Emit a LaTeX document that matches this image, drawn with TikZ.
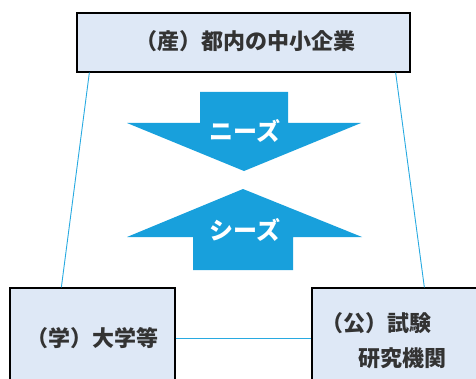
\documentclass[tikz,border=0pt]{standalone}
\usepackage{fontspec}
\newfontfamily\cjk{Noto Sans CJK JP}
\usetikzlibrary{calc}
\definecolor{boxfill}{RGB}{222,232,246}
\definecolor{arrowblue}{RGB}{24,160,220}
\definecolor{linkcyan}{RGB}{40,170,225}
\tikzset{
  panel/.style={draw=black, line width=1.3pt, fill=boxfill, inner sep=0pt},
  link/.style={draw=linkcyan, line width=0.9pt},
  flow/.style={fill=arrowblue, draw=none},
  boxtext/.style={font=\cjk\bfseries\fontsize{22}{26}\selectfont, text=black!80, inner sep=0pt},
  arrowtext/.style={font=\cjk\bfseries\fontsize{24}{28}\selectfont, text=white, inner sep=0pt},
}
\begin{document}
\begin{tikzpicture}[x=1pt,y=1pt]
\useasboundingbox (0,0) rectangle (476,378);
% boxes (y = 378 - pixel y)
\node[panel, minimum width=333pt, minimum height=59pt] (top) at (243.5,335.5) {};
\node[panel, minimum width=165pt, minimum height=110pt] (bl) at (92.5,35) {};
\node[panel, minimum width=180pt, minimum height=110pt] (br) at (402,35) {};
% connectors
\draw[link] ($(top.south west)+(13,0)$) -- ($(bl.north west)+(52,0)$);
\draw[link] ($(top.south east)+(-15,0)$) -- ($(br.north west)+(113,0)$);
\draw[link] (bl.east |- 0,40) -- (br.west |- 0,40);
% arrows
\path[flow] (200,286) -- (288,286) -- (288,255) -- (361,255) -- (244,207) -- (127,255) -- (200,255) -- cycle;
\path[flow] (243,189) -- (362,141) -- (293,141) -- (293,108) -- (193,108) -- (193,141) -- (127,141) -- cycle;
% texts
\node[boxtext] (ttop) at (245,337) {（産）都内の中小企業};
\node[boxtext] (tbl) at (92,40) {（学）大学等};
\node[boxtext, anchor=west] (tbr1) at (321,55) {（公）試験};
\node[boxtext, anchor=west] (tbr2) at (358,20) {研究機関};
\node[arrowtext] (needs) at (245,247) {ニーズ};
\node[arrowtext] (seeds) at (245,148) {シーズ};
\end{tikzpicture}
\end{document}
